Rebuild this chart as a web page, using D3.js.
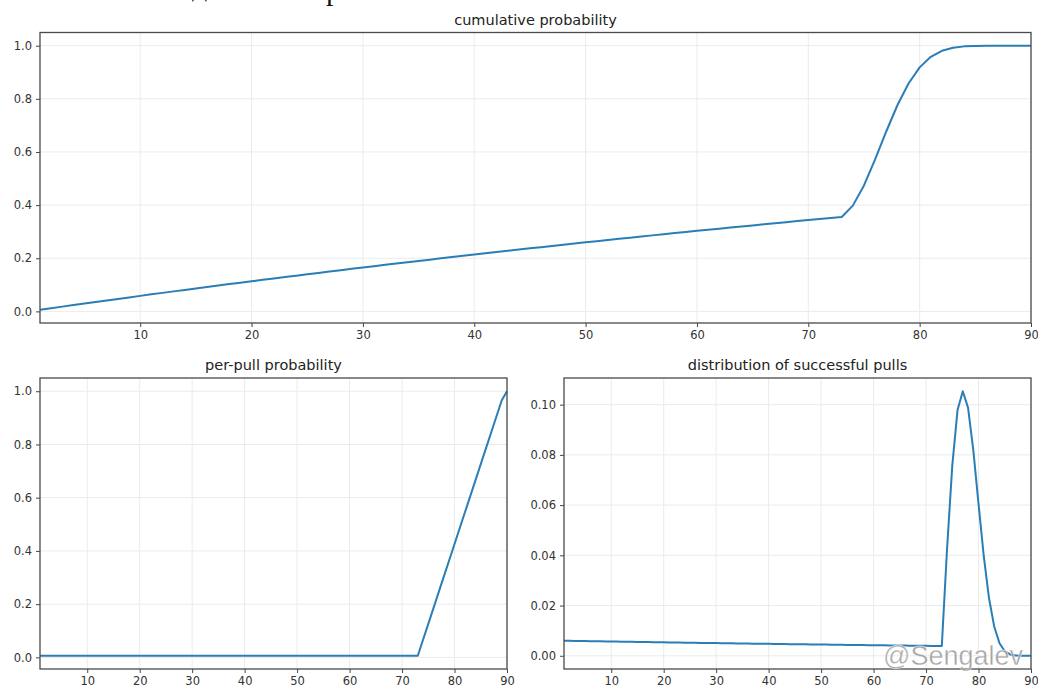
<!DOCTYPE html>
<html>
<head>
<meta charset="utf-8">
<script src="https://cdn.jsdelivr.net/npm/d3@7"></script>
<style>
  html, body { margin: 0; padding: 0; background: #fff; }
  svg { display: block; }
</style>
</head>
<body>
<svg id="chart" width="1038" height="690"></svg>
<script>
// pull number 1..90 (x categories)
const pulls = d3.range(1, 91);

// chance of hitting on a given pull
const perPull = [
  0.006, 0.006, 0.006, 0.006, 0.006, 0.006, 0.006, 0.006, 0.006, 0.006,
  0.006, 0.006, 0.006, 0.006, 0.006, 0.006, 0.006, 0.006, 0.006, 0.006,
  0.006, 0.006, 0.006, 0.006, 0.006, 0.006, 0.006, 0.006, 0.006, 0.006,
  0.006, 0.006, 0.006, 0.006, 0.006, 0.006, 0.006, 0.006, 0.006, 0.006,
  0.006, 0.006, 0.006, 0.006, 0.006, 0.006, 0.006, 0.006, 0.006, 0.006,
  0.006, 0.006, 0.006, 0.006, 0.006, 0.006, 0.006, 0.006, 0.006, 0.006,
  0.006, 0.006, 0.006, 0.006, 0.006, 0.006, 0.006, 0.006, 0.006, 0.006,
  0.006, 0.006, 0.006, 0.066, 0.126, 0.186, 0.246, 0.306, 0.366, 0.426,
  0.486, 0.546, 0.606, 0.666, 0.726, 0.786, 0.846, 0.906, 0.966, 1.0
];

// chance of having hit by pull n
const cumulative = [
  0.0060, 0.0120, 0.0179, 0.0238, 0.0296, 0.0355, 0.0413, 0.0470, 0.0527, 0.0584,
  0.0641, 0.0697, 0.0753, 0.0808, 0.0863, 0.0918, 0.0972, 0.1027, 0.1080, 0.1134,
  0.1187, 0.1240, 0.1293, 0.1345, 0.1397, 0.1448, 0.1500, 0.1551, 0.1601, 0.1652,
  0.1702, 0.1752, 0.1801, 0.1850, 0.1899, 0.1948, 0.1996, 0.2044, 0.2092, 0.2139,
  0.2187, 0.2233, 0.2280, 0.2326, 0.2372, 0.2418, 0.2464, 0.2509, 0.2554, 0.2599,
  0.2643, 0.2687, 0.2731, 0.2775, 0.2818, 0.2861, 0.2904, 0.2946, 0.2989, 0.3031,
  0.3073, 0.3114, 0.3155, 0.3197, 0.3237, 0.3278, 0.3318, 0.3358, 0.3398, 0.3438,
  0.3477, 0.3516, 0.3555, 0.3981, 0.4739, 0.5718, 0.6771, 0.7759, 0.8579, 0.9185,
  0.9581, 0.9810, 0.9925, 0.9975, 0.9993, 0.9999, 1.0000, 1.0000, 1.0000, 1.0000
];

// chance that the first hit lands exactly on pull n
const successDist = [
  0.006000, 0.005964, 0.005928, 0.005893, 0.005857, 0.005822, 0.005787, 0.005752, 0.005718, 0.005684,
  0.005650, 0.005616, 0.005582, 0.005548, 0.005515, 0.005482, 0.005449, 0.005417, 0.005384, 0.005352,
  0.005320, 0.005288, 0.005256, 0.005224, 0.005193, 0.005162, 0.005131, 0.005100, 0.005070, 0.005039,
  0.005009, 0.004979, 0.004949, 0.004919, 0.004890, 0.004860, 0.004831, 0.004802, 0.004773, 0.004745,
  0.004716, 0.004688, 0.004660, 0.004632, 0.004604, 0.004577, 0.004549, 0.004522, 0.004495, 0.004468,
  0.004441, 0.004414, 0.004388, 0.004361, 0.004335, 0.004309, 0.004283, 0.004258, 0.004232, 0.004207,
  0.004182, 0.004156, 0.004131, 0.004107, 0.004082, 0.004058, 0.004033, 0.004009, 0.003985, 0.003961,
  0.003937, 0.003914, 0.003890, 0.042535, 0.075844, 0.097854, 0.105347, 0.098806, 0.082016, 0.060523,
  0.039633, 0.022886, 0.011532, 0.004994, 0.001818, 0.000539, 0.000124, 0.0000205, 0.0000021, 0.0000001
];

const xTicks = [10, 20, 30, 40, 50, 60, 70, 80, 90];
const probTicks = [0.0, 0.2, 0.4, 0.6, 0.8, 1.0];
const distTicks = [0.00, 0.02, 0.04, 0.06, 0.08, 0.10];

const lineColor = '#2b7db7';
const font = '"DejaVu Sans", sans-serif';

var svg = d3.select('#chart');

function drawPanel(box, values, title, yTicks, yFmt) {
  var g = svg.append('g');

  var x = d3.scaleLinear()
            .domain([1, 90])
            .range([box.left, box.right]);

  // matplotlib style 5% margin on y
  var ext = d3.extent(values);
  var pad = (ext[1] - ext[0]) * 0.05;
  var y = d3.scaleLinear()
            .domain([ext[0] - pad, ext[1] + pad])
            .range([box.bottom, box.top]);

  // grid
  g.append('g').selectAll('line')
   .data(xTicks)
   .enter().append('line')
      .attr('x1', d => x(d)).attr('x2', d => x(d))
      .attr('y1', box.top).attr('y2', box.bottom)
      .attr('stroke', '#ebebeb').attr('stroke-width', 1);
  g.append('g').selectAll('line')
   .data(yTicks)
   .enter().append('line')
      .attr('x1', box.left).attr('x2', box.right)
      .attr('y1', d => y(d)).attr('y2', d => y(d))
      .attr('stroke', '#ebebeb').attr('stroke-width', 1);

  // the curve
  var line = d3.line()
               .x((d, i) => x(pulls[i]))
               .y(d => y(d));
  g.append('path')
   .datum(values)
   .attr('d', line)
   .attr('fill', 'none')
   .attr('stroke', lineColor)
   .attr('stroke-width', 2)
   .attr('stroke-linejoin', 'round');

  // axes
  var xAxis = g.append('g')
               .attr('transform', 'translate(0,' + box.bottom + ')')
               .call(d3.axisBottom(x).tickValues(xTicks).tickSize(4).tickPadding(4));
  var yAxis = g.append('g')
               .attr('transform', 'translate(' + box.left + ',0)')
               .call(d3.axisLeft(y).tickValues(yTicks).tickFormat(d3.format(yFmt)).tickSize(4).tickPadding(4));
  [xAxis, yAxis].forEach(function(a) {
    a.select('.domain').remove();
    a.selectAll('line').attr('stroke', '#444').attr('stroke-width', 1);
    a.selectAll('text')
     .attr('fill', '#333')
     .style('font-family', font)
     .style('font-size', '11.5px');
  });

  // frame
  g.append('rect')
   .attr('x', box.left).attr('y', box.top)
   .attr('width', box.right - box.left)
   .attr('height', box.bottom - box.top)
   .attr('fill', 'none')
   .attr('stroke', '#4a4a4a')
   .attr('stroke-width', 1.3);

  g.append('text')
   .attr('x', (box.left + box.right) / 2)
   .attr('y', box.top - 8)
   .attr('text-anchor', 'middle')
   .attr('fill', '#222')
   .style('font-family', font)
   .style('font-size', '14.5px')
   .text(title);
}

drawPanel({left: 40, right: 1031, top: 32.5, bottom: 323}, cumulative, 'cumulative probability', probTicks, '.1f');
drawPanel({left: 40, right: 507, top: 378, bottom: 669}, perPull, 'per-pull probability', probTicks, '.1f');
drawPanel({left: 564, right: 1031, top: 378, bottom: 669}, successDist, 'distribution of successful pulls', distTicks, '.2f');

// cropped heading from the page above the chart
svg.append('text').attr('x', 192).attr('y', -4)
   .style('font-family', '"Liberation Serif", serif').style('font-size', '30px')
   .attr('fill', '#111').text('д');
svg.append('text').attr('x', 326).attr('y', -0.5)
   .style('font-family', '"Liberation Serif", serif').style('font-size', '30px')
   .attr('fill', '#111').text('р');

// watermark
svg.append('text')
   .attr('x', 953).attr('y', 665)
   .attr('text-anchor', 'middle')
   .attr('fill', '#959595')
   .attr('fill-opacity', 0.9)
   .attr('stroke', '#fff')
   .attr('stroke-width', 0.8)
   .attr('stroke-opacity', 0.6)
   .style('font-family', '"Liberation Sans", Arial, sans-serif')
   .style('font-size', '27px')
   .text('@Sengalev');
</script>
</body>
</html>
